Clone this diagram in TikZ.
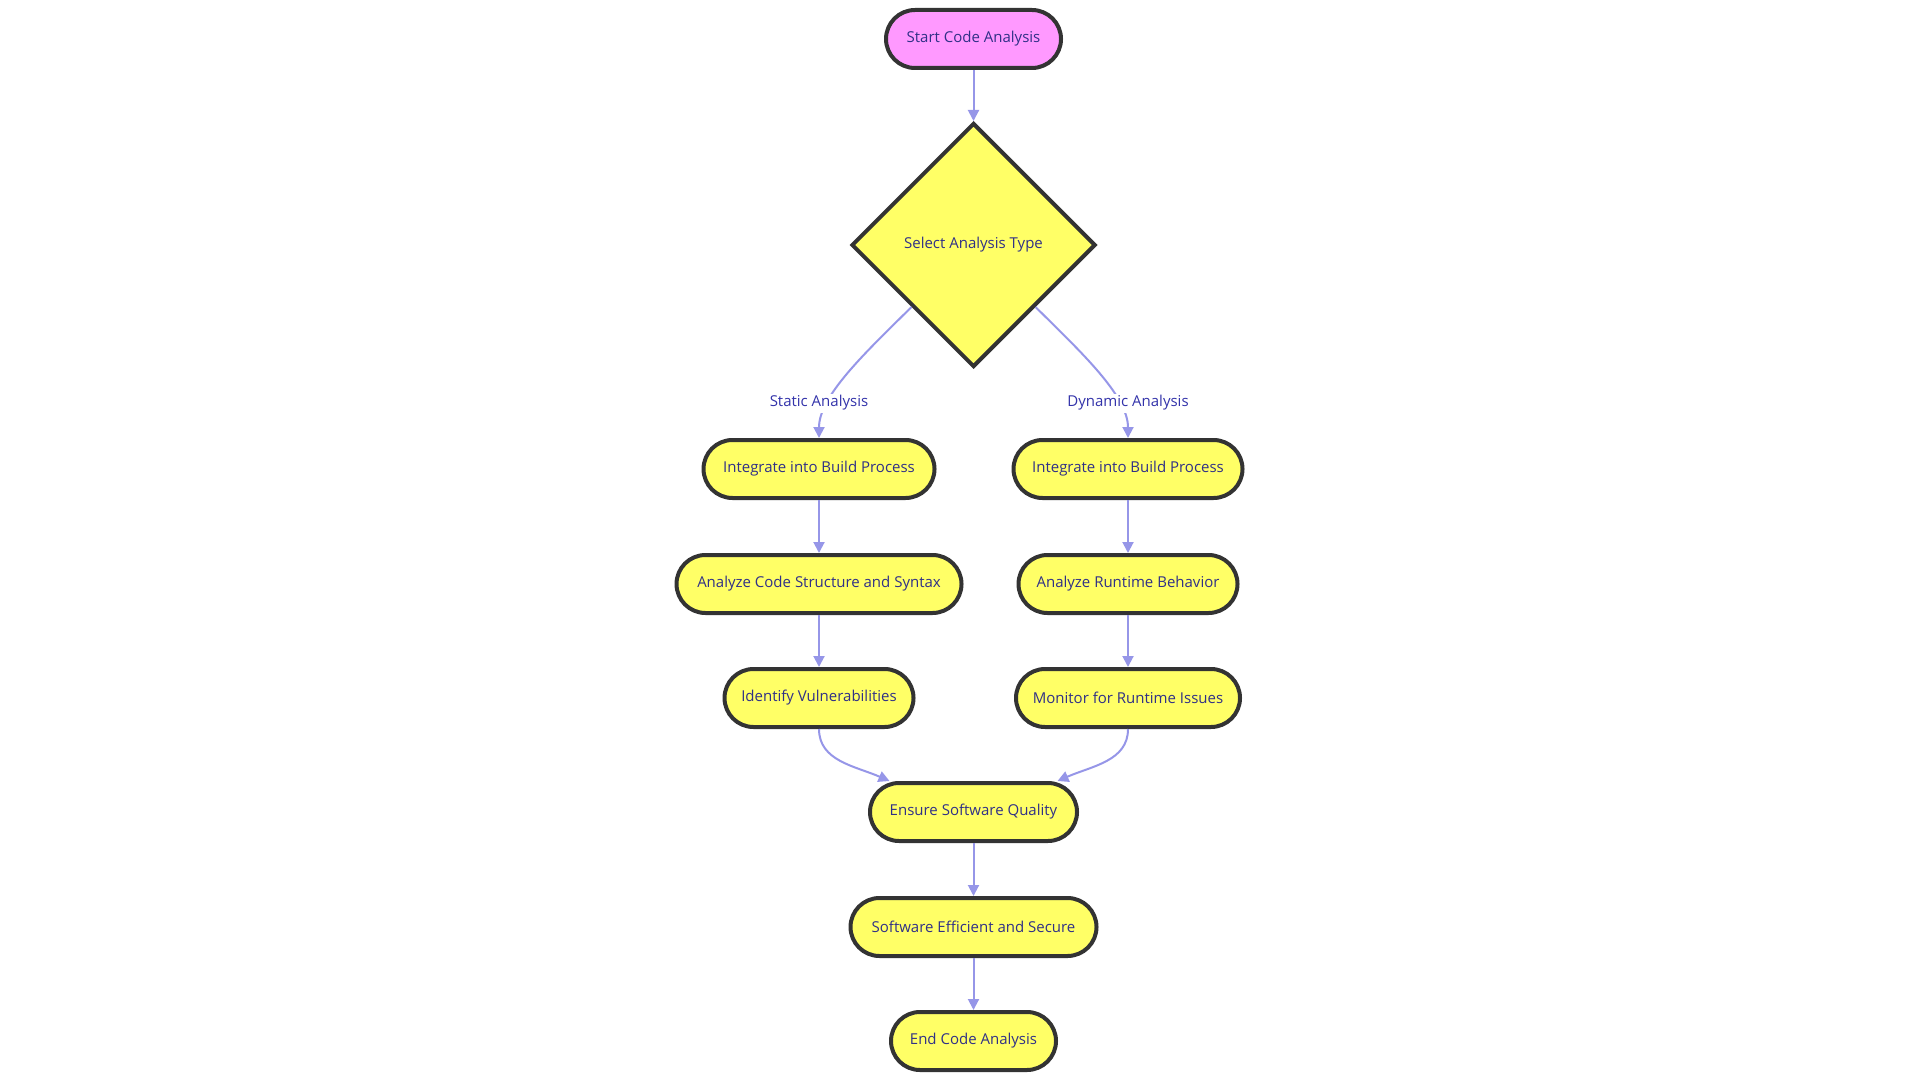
\documentclass[tikz,border=0pt]{standalone}
\usepackage{fontspec}
\setmainfont{Open Sans}
\usetikzlibrary{shapes.geometric,arrows.meta,calc}
\definecolor{nodefill}{RGB}{255,255,102}
\definecolor{startfill}{RGB}{255,153,255}
\definecolor{nodeborder}{RGB}{51,51,51}
\definecolor{nodetext}{RGB}{48,48,135}
\definecolor{labeltext}{RGB}{51,51,170}
\definecolor{edgecol}{RGB}{150,150,232}
\begin{document}
\begin{tikzpicture}[x=0.5pt,y=-0.5pt,
  box/.style={draw=nodeborder, line width=2pt, fill=nodefill, rounded corners=14.5pt,
    minimum height=29pt, inner sep=0pt, text=nodetext, font=\fontsize{7.5}{9}\selectfont},
  startbox/.style={box, fill=startfill},
  decision/.style={diamond, shape aspect=1, draw=nodeborder, line width=2pt, fill=nodefill,
    minimum width=122pt, minimum height=122pt, inner sep=0pt, text=nodetext, font=\fontsize{7.5}{9}\selectfont},
  flow/.style={draw=edgecol, line width=1pt, -{Triangle[length=5.5pt,width=5.5pt]}},
  elabel/.style={fill=white, inner sep=1pt, text=labeltext, font=\fontsize{7.5}{9}\selectfont}
]
\useasboundingbox (0,0) rectangle (1920,1080);

\node[startbox, minimum width=87.5pt] (start) at (973.5,39) {Start Code Analysis};
\node[decision] (sel) at (973.5,245) {Select Analysis Type};
\node[box, minimum width=115.5pt] (il) at (819,469) {Integrate into Build Process};
\node[box, minimum width=114.5pt] (ir) at (1128,469) {Integrate into Build Process};
\node[box, minimum width=142.5pt] (ac) at (819,584) {Analyze Code Structure and Syntax};
\node[box, minimum width=109.5pt] (ar) at (1128,584) {Analyze Runtime Behavior};
\node[box, minimum width=94.5pt] (iv) at (819,698) {Identify Vulnerabilities};
\node[box, minimum width=112pt] (mo) at (1128,698) {Monitor for Runtime Issues};
\node[box, minimum width=103.5pt] (en) at (973.5,812) {Ensure Software Quality};
\node[box, minimum width=123pt] (se) at (973.5,927) {Software Efficient and Secure};
\node[box, minimum width=82.5pt] (ed) at (973.5,1041) {End Code Analysis};

\draw[flow] (start) -- (sel);
\draw[flow] (sel.south west) .. controls (865,353) and (819,396) .. (il.north);
\draw[flow] (sel.south east) .. controls (1082,353) and (1128,396) .. (ir.north);
\node[elabel] (ls) at (819,403) {Static Analysis};
\node[elabel] (ld) at (1128,403) {Dynamic Analysis};
\draw[flow] (il) -- (ac);
\draw[flow] (ac) -- (iv);
\draw[flow] (ir) -- (ar);
\draw[flow] (ar) -- (mo);
\coordinate (enl) at ($(en.north)+(-84,0)$);
\coordinate (enr) at ($(en.north)+(84,0)$);
\draw[flow] (iv.south) .. controls (819,761) and (855,766) .. (enl);
\draw[flow] (mo.south) .. controls (1128,761) and (1092,766) .. (enr);
\draw[flow] (en) -- (se);
\draw[flow] (se) -- (ed);
\end{tikzpicture}
\end{document}
